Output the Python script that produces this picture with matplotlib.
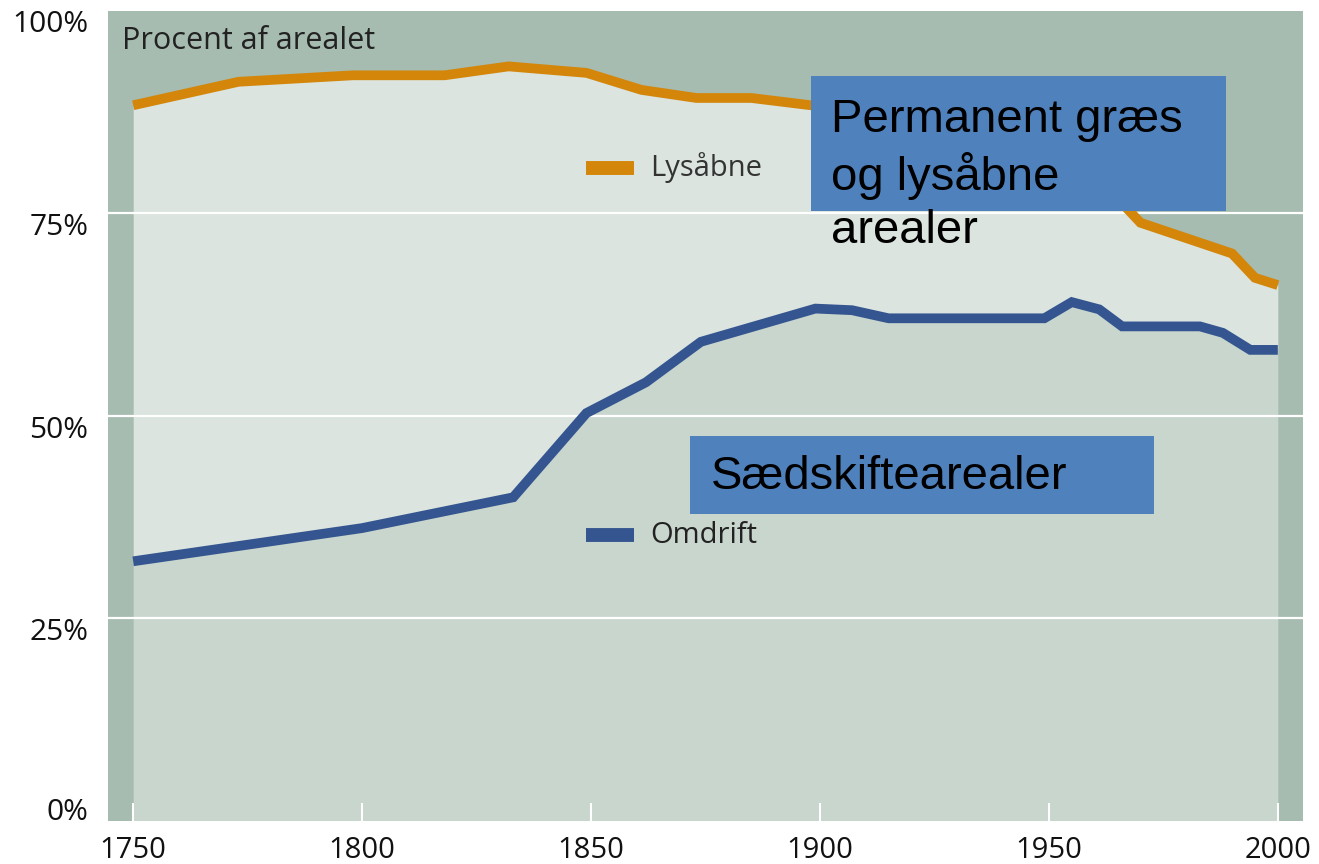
import matplotlib.pyplot as plt
from matplotlib.patches import Rectangle
import numpy as np

# Data (percent of area)
lys_years = [1750, 1773, 1798, 1818, 1832, 1849, 1861, 1873, 1885, 1898,
             1910, 1950, 1963, 1970, 1990, 1995, 2000]
lys_values = [88.3, 91.2, 92.0, 92.0, 93.1, 92.3, 90.2, 89.2, 89.2, 88.3,
              87.5, 84.0, 78.0, 73.8, 70.0, 67.0, 66.1]

omd_years = [1750, 1800, 1833, 1849, 1862, 1874, 1899, 1907, 1915, 1949,
             1955, 1961, 1966, 1983, 1988, 1994, 2000]
omd_values = [32.0, 36.1, 39.9, 50.3, 54.1, 59.1, 63.2, 63.0, 62.0, 62.0,
              64.0, 63.1, 61.0, 61.0, 60.2, 58.1, 58.1]

x_ticks = [1750, 1800, 1850, 1900, 1950, 2000]
y_ticks = [0, 25, 50, 75, 100]
y_labels = ["0%", "25%", "50%", "75%", "100%"]

dark_bg = "#a6bcb0"
light_fill = "#dbe4df"
low_fill = "#c8d6ce"
orange = "#d4860a"
blue = "#34558f"
box_blue = "#4f81bd"

plt.rcParams['font.family'] = ['Open Sans', 'DejaVu Sans']

fig = plt.figure(figsize=(13.19, 8.64), dpi=100)
ax = fig.add_axes([108 / 1319, 1 - 820.5 / 864, 1195 / 1319, 810 / 864])
ax.set_facecolor(dark_bg)
ax.set_xlim(1744.5, 2005.5)
ax.set_ylim(0, 100)

# area fills
ax.fill_between(omd_years, 0, omd_values, color=low_fill, lw=0, zorder=1)
# upper band between omdrift and lysåbne on a shared year grid
all_years = sorted(set(lys_years) | set(omd_years))
lys_i = np.interp(all_years, lys_years, lys_values)
omd_i = np.interp(all_years, omd_years, omd_values)
ax.fill_between(all_years, omd_i, lys_i, color=light_fill, lw=0, zorder=1)

for y in [25, 50, 75]:
    ax.axhline(y, color="white", lw=1.6, zorder=2)

ax.plot(lys_years, lys_values, color=orange, lw=7, solid_capstyle='butt',
        solid_joinstyle='miter', zorder=3)
ax.plot(omd_years, omd_values, color=blue, lw=7, solid_capstyle='butt',
        solid_joinstyle='miter', zorder=3)

# inline legend
ax.plot([1848.9, 1859.4], [80.6, 80.6], color=orange, lw=10, solid_capstyle='butt', zorder=3)
ax.text(1863.0, 80.6, "Lysåbne", fontsize=21, color="#333333", va="center", zorder=3)
ax.plot([1848.9, 1859.4], [35.2, 35.2], color=blue, lw=10, solid_capstyle='butt', zorder=3)
ax.text(1863.0, 35.2, "Omdrift", fontsize=21, color="#222222", va="center", zorder=3)

ax.text(1747.5, 96.2, "Procent af arealet", fontsize=22, color="#222222",
        va="center", zorder=3)

# overlay boxes
ax.add_patch(Rectangle((1898.0, 75.2), 90.6, 16.7, facecolor=box_blue,
                       edgecolor="none", zorder=4))
ax.text(1902.4, 79.6, "Permanent græs\nog lysåbne\narealer", fontsize=34,
        family="Liberation Sans", color="black", va="center", ha="left",
        linespacing=1.27, zorder=5)
ax.add_patch(Rectangle((1871.6, 37.8), 101.3, 9.7, facecolor=box_blue,
                       edgecolor="none", zorder=4))
ax.text(1876.2, 42.4, "Sædskiftearealer", fontsize=34,
        family="Liberation Sans", color="black", va="center", ha="left", zorder=5)

for s in ax.spines.values():
    s.set_visible(False)

ax.set_xticks(x_ticks)
ax.tick_params(axis='x', direction='in', length=13, width=1.5, color='white',
               labelsize=21, pad=11, labelcolor="#111111")
ax.set_yticks(y_ticks)
ax.set_yticklabels(y_labels)
ax.tick_params(axis='y', length=0, labelsize=21.5, pad=14, labelcolor="#111111")
for lab, v in zip(ax.get_yticklabels(), y_ticks):
    lab.set_va('baseline' if v == 0 else 'top')
ax.set_axisbelow(False)

fig.savefig("out.png", dpi=100)
